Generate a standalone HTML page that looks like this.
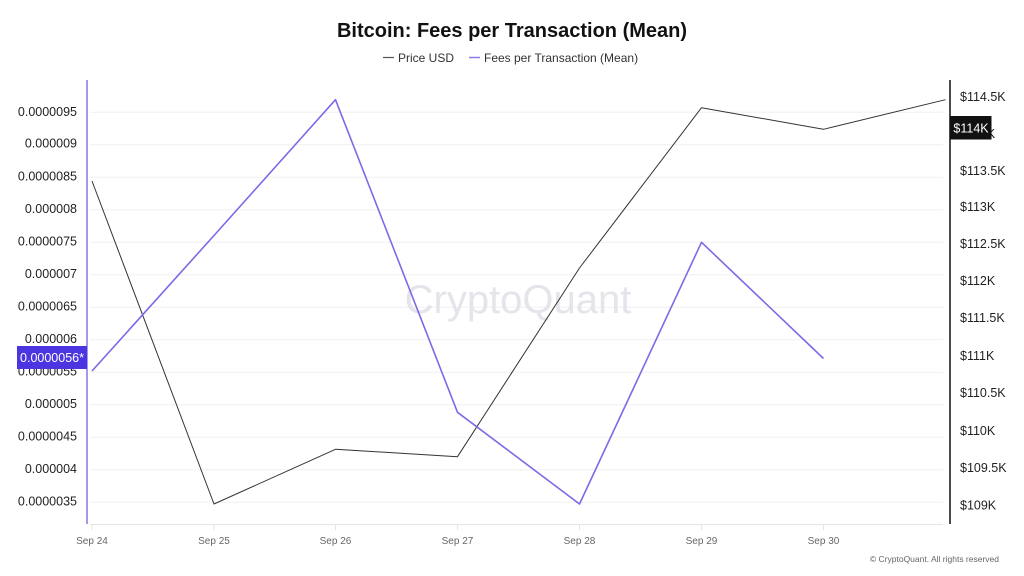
<!DOCTYPE html>
<html>
<head>
<meta charset="utf-8">
<style>
html,body{margin:0;padding:0;background:#fff;}
body{width:1024px;height:576px;overflow:hidden;font-family:"Liberation Sans",sans-serif;}
svg{display:block;}
</style>
</head>
<body>
<svg width="1024" height="576" viewBox="0 0 1024 576" xmlns="http://www.w3.org/2000/svg" font-family="Liberation Sans, sans-serif">
  <rect width="1024" height="576" fill="#fff"/>
  <!-- Title -->
  <text x="512" y="37" text-anchor="middle" font-size="20" font-weight="bold" fill="#111">Bitcoin: Fees per Transaction (Mean)</text>
  <!-- Legend -->
  <line x1="383" y1="57.5" x2="394" y2="57.5" stroke="#555" stroke-width="1.2"/>
  <text x="398" y="62" font-size="12" fill="#333">Price USD</text>
  <line x1="469" y1="57.5" x2="480" y2="57.5" stroke="#8b7fe6" stroke-width="1.5"/>
  <text x="484" y="62" font-size="12" fill="#333">Fees per Transaction (Mean)</text>

  <!-- Gridlines -->
  <g stroke="#f0f0f0" stroke-width="1">
    <line x1="90" y1="112.3" x2="943" y2="112.3"/>
    <line x1="90" y1="144.8" x2="943" y2="144.8"/>
    <line x1="90" y1="177.3" x2="943" y2="177.3"/>
    <line x1="90" y1="209.8" x2="943" y2="209.8"/>
    <line x1="90" y1="242.3" x2="943" y2="242.3"/>
    <line x1="90" y1="274.8" x2="943" y2="274.8"/>
    <line x1="90" y1="307.3" x2="943" y2="307.3"/>
    <line x1="90" y1="339.8" x2="943" y2="339.8"/>
    <line x1="90" y1="372.3" x2="943" y2="372.3"/>
    <line x1="90" y1="404.8" x2="943" y2="404.8"/>
    <line x1="90" y1="437.3" x2="943" y2="437.3"/>
    <line x1="90" y1="469.8" x2="943" y2="469.8"/>
    <line x1="90" y1="502.3" x2="943" y2="502.3"/>
  </g>

  <!-- Watermark -->
  <text x="518" y="313" text-anchor="middle" font-size="40" fill="#e4e4ea">CryptoQuant</text>

  <!-- X axis -->
  <line x1="90" y1="524.5" x2="943" y2="524.5" stroke="#e4e4e4" stroke-width="1"/>
  <g stroke="#e4e4e4" stroke-width="1">
    <line x1="92" y1="524.5" x2="92" y2="530"/>
    <line x1="214" y1="524.5" x2="214" y2="530"/>
    <line x1="335.5" y1="524.5" x2="335.5" y2="530"/>
    <line x1="457.5" y1="524.5" x2="457.5" y2="530"/>
    <line x1="579.5" y1="524.5" x2="579.5" y2="530"/>
    <line x1="701.5" y1="524.5" x2="701.5" y2="530"/>
    <line x1="823.5" y1="524.5" x2="823.5" y2="530"/>
  </g>
  <g font-size="10" fill="#666" text-anchor="middle">
    <text x="92" y="544">Sep 24</text>
    <text x="214" y="544">Sep 25</text>
    <text x="335.5" y="544">Sep 26</text>
    <text x="457.5" y="544">Sep 27</text>
    <text x="579.5" y="544">Sep 28</text>
    <text x="701.5" y="544">Sep 29</text>
    <text x="823.5" y="544">Sep 30</text>
  </g>

  <!-- Left axis -->
  <line x1="87" y1="80" x2="87" y2="524" stroke="#a597ea" stroke-width="2"/>
  <g font-size="12.5" fill="#222" text-anchor="end">
    <text x="77" y="116">0.0000095</text>
    <text x="77" y="147.5">0.000009</text>
    <text x="77" y="180.5">0.0000085</text>
    <text x="77" y="213">0.000008</text>
    <text x="77" y="245.5">0.0000075</text>
    <text x="77" y="278">0.000007</text>
    <text x="77" y="310.5">0.0000065</text>
    <text x="77" y="343">0.000006</text>
    <text x="77" y="375.5">0.0000055</text>
    <text x="77" y="408">0.000005</text>
    <text x="77" y="440.5">0.0000045</text>
    <text x="77" y="473">0.000004</text>
    <text x="77" y="505.5">0.0000035</text>
  </g>

  <!-- Right axis -->
  <line x1="950" y1="80" x2="950" y2="524" stroke="#111" stroke-width="1.5"/>
  <g font-size="12.5" fill="#222">
    <text x="960" y="101">$114.5K</text>
    <text x="960" y="138">$114K</text>
    <text x="960" y="175">$113.5K</text>
    <text x="960" y="211">$113K</text>
    <text x="960" y="248">$112.5K</text>
    <text x="960" y="285">$112K</text>
    <text x="960" y="322">$111.5K</text>
    <text x="960" y="360">$111K</text>
    <text x="960" y="397">$110.5K</text>
    <text x="960" y="435">$110K</text>
    <text x="960" y="472">$109.5K</text>
    <text x="960" y="509.5">$109K</text>
  </g>

  <!-- Price series -->
  <polyline fill="none" stroke="#333" stroke-width="1" stroke-linejoin="round"
    points="92,181 214,504 335.5,449.3 457.5,456.7 579.5,268 701.5,107.7 823.5,129.3 945.5,99.7"/>

  <!-- Fees series -->
  <polyline fill="none" stroke="#7b6be6" stroke-width="1.6" stroke-linejoin="round"
    points="92,371 214,235.5 335.5,99.7 457.5,412.3 579.5,504 701.5,242.3 823.5,358.5"/>

  <!-- Current value labels -->
  <rect x="17" y="346" width="70" height="23" fill="#4b35e0"/>
  <text x="52" y="362" text-anchor="middle" font-size="12.5" fill="#fff">0.0000056*</text>

  <rect x="950.5" y="116" width="41" height="23.5" fill="#111"/>
  <text x="971" y="132.5" text-anchor="middle" font-size="12.5" fill="#fff">$114K</text>

  <!-- Copyright -->
  <text x="999" y="562" text-anchor="end" font-size="8.5" fill="#666">© CryptoQuant. All rights reserved</text>
</svg>
</body>
</html>
